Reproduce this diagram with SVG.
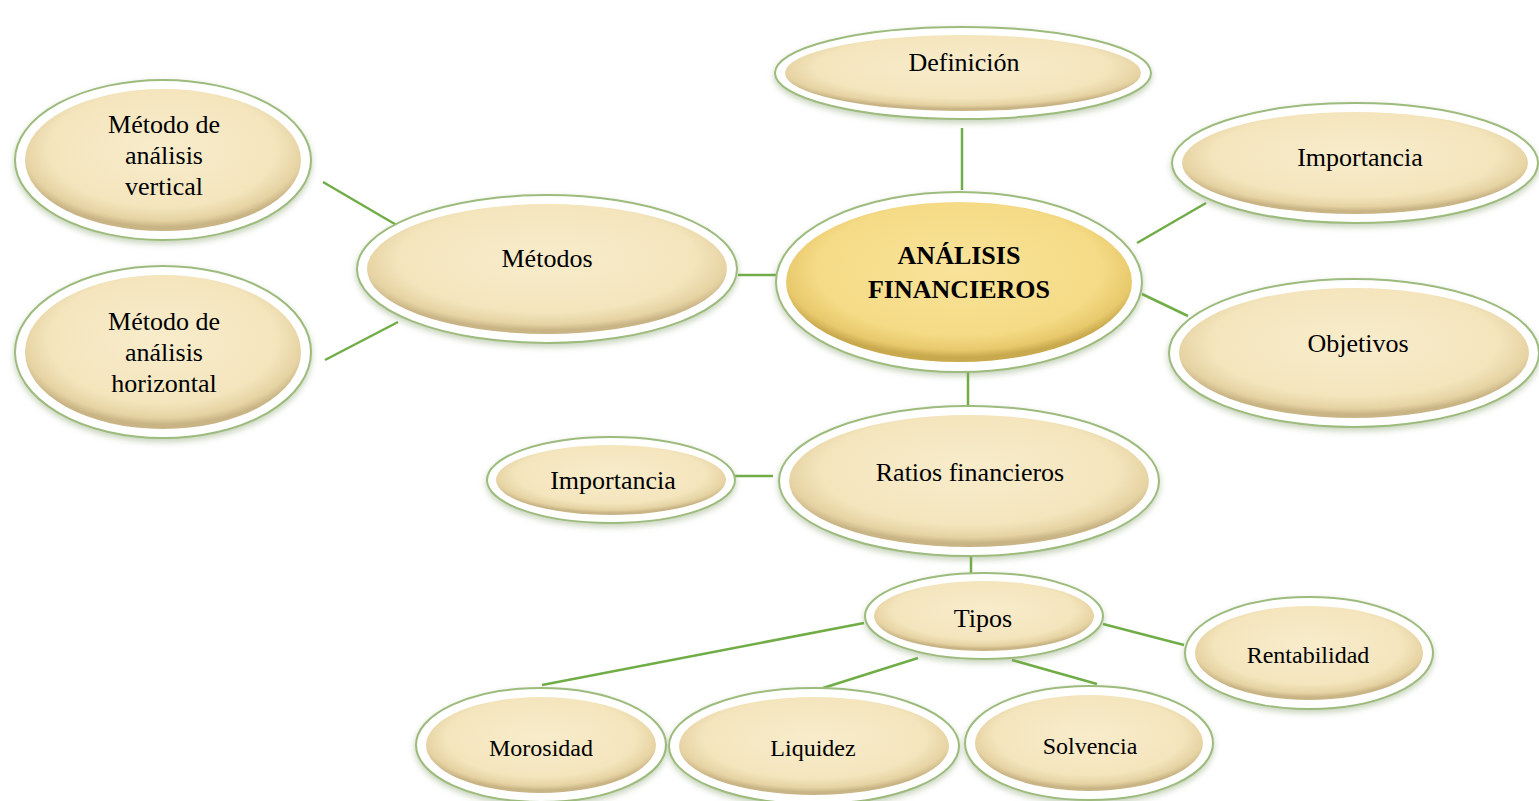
<svg xmlns="http://www.w3.org/2000/svg" width="1539" height="801" viewBox="0 0 1539 801">
  <defs>
    <radialGradient id="cream" cx="50%" cy="42%" r="55%">
      <stop offset="0" stop-color="#f8eccb"/>
      <stop offset="0.75" stop-color="#f4e5bd"/>
      <stop offset="0.92" stop-color="#e6d3a3"/>
      <stop offset="1" stop-color="#c9b486"/>
    </radialGradient>
    <radialGradient id="gold" cx="50%" cy="42%" r="55%">
      <stop offset="0" stop-color="#f9e39a"/>
      <stop offset="0.75" stop-color="#f5db86"/>
      <stop offset="0.92" stop-color="#e8c96c"/>
      <stop offset="1" stop-color="#c9a94e"/>
    </radialGradient>
    <filter id="soft" x="-10%" y="-10%" width="120%" height="125%">
      <feGaussianBlur in="SourceAlpha" stdDeviation="3"/>
      <feOffset dx="0" dy="3" result="b"/>
      <feFlood flood-color="#7f9a63" flood-opacity="0.45"/>
      <feComposite in2="b" operator="in"/>
      <feMerge><feMergeNode/><feMergeNode in="SourceGraphic"/></feMerge>
    </filter>
  </defs>
  <style>
    .outer { fill: #ffffff; stroke: #9dbb7d; stroke-width: 2; filter: url(#soft); }
    .inner { fill: url(#cream); }
    .core { fill: url(#gold); }
    .lbl { font-family: "Liberation Serif", "Times New Roman", "DejaVu Serif", serif; font-size: 26px; fill: #000; text-anchor: middle; }
    .sm { font-size: 24px; }
    .bold { font-weight: bold; font-size: 26px; }
    #connectors line { stroke: #70ad47; stroke-width: 2.5; }
  </style>

  <g id="connectors">
    <line x1="962" y1="128" x2="962" y2="190"/>
    <line x1="1137" y1="243" x2="1206" y2="203"/>
    <line x1="1142" y1="294" x2="1188" y2="316"/>
    <line x1="738" y1="275" x2="780" y2="275"/>
    <line x1="323" y1="182" x2="405" y2="230"/>
    <line x1="325" y1="360" x2="398" y2="322"/>
    <line x1="968" y1="368" x2="968" y2="414"/>
    <line x1="733" y1="476" x2="773" y2="476"/>
    <line x1="971" y1="552" x2="971" y2="573"/>
    <line x1="864" y1="623" x2="542" y2="685"/>
    <line x1="918" y1="658" x2="823" y2="688"/>
    <line x1="1012" y1="660" x2="1097" y2="684"/>
    <line x1="1103" y1="624" x2="1184" y2="645"/>
  </g>

  <g id="definicion">
    <ellipse class="outer" cx="963" cy="73" rx="188" ry="46"/>
    <ellipse class="inner" cx="963" cy="73" rx="178" ry="38"/>
    <text class="lbl" x="964" y="71">Definición</text>
  </g>

  <g id="importancia-top">
    <ellipse class="outer" cx="1355" cy="163" rx="183" ry="60"/>
    <ellipse class="inner" cx="1355" cy="163" rx="173" ry="51"/>
    <text class="lbl" x="1360" y="166">Importancia</text>
  </g>

  <g id="objetivos">
    <ellipse class="outer" cx="1354" cy="353" rx="185" ry="74"/>
    <ellipse class="inner" cx="1354" cy="353" rx="175" ry="65"/>
    <text class="lbl" x="1358" y="352">Objetivos</text>
  </g>

  <g id="analisis">
    <ellipse class="outer" cx="959" cy="282" rx="183" ry="90"/>
    <ellipse class="core" cx="959" cy="282" rx="173" ry="80"/>
    <text class="lbl bold" x="959" y="264">ANÁLISIS</text>
    <text class="lbl bold" x="959" y="298">FINANCIEROS</text>
  </g>

  <g id="metodos">
    <ellipse class="outer" cx="547" cy="269" rx="190" ry="74"/>
    <ellipse class="inner" cx="547" cy="269" rx="180" ry="65"/>
    <text class="lbl" x="547" y="267">Métodos</text>
  </g>

  <g id="metodo-vertical">
    <ellipse class="outer" cx="163" cy="160" rx="148" ry="80"/>
    <ellipse class="inner" cx="163" cy="160" rx="138" ry="71"/>
    <text class="lbl" x="164" y="133">Método de</text>
    <text class="lbl" x="164" y="164">análisis</text>
    <text class="lbl" x="164" y="195">vertical</text>
  </g>

  <g id="metodo-horizontal">
    <ellipse class="outer" cx="163" cy="352" rx="148" ry="86"/>
    <ellipse class="inner" cx="163" cy="352" rx="138" ry="77"/>
    <text class="lbl" x="164" y="330">Método de</text>
    <text class="lbl" x="164" y="361">análisis</text>
    <text class="lbl" x="164" y="392">horizontal</text>
  </g>

  <g id="ratios">
    <ellipse class="outer" cx="969" cy="481" rx="190" ry="75"/>
    <ellipse class="inner" cx="969" cy="481" rx="180" ry="66"/>
    <text class="lbl" x="970" y="481">Ratios financieros</text>
  </g>

  <g id="importancia-ratios">
    <ellipse class="outer" cx="611" cy="480" rx="124" ry="43"/>
    <ellipse class="inner" cx="611" cy="480" rx="115" ry="35"/>
    <text class="lbl" x="613" y="489">Importancia</text>
  </g>

  <g id="tipos">
    <ellipse class="outer" cx="984" cy="616" rx="119" ry="43"/>
    <ellipse class="inner" cx="984" cy="616" rx="110" ry="35"/>
    <text class="lbl" x="983" y="627">Tipos</text>
  </g>

  <g id="rentabilidad">
    <ellipse class="outer" cx="1309" cy="653" rx="124" ry="56"/>
    <ellipse class="inner" cx="1309" cy="653" rx="114" ry="47"/>
    <text class="lbl sm" x="1308" y="663">Rentabilidad</text>
  </g>

  <g id="morosidad">
    <ellipse class="outer" cx="541" cy="745" rx="125" ry="57"/>
    <ellipse class="inner" cx="541" cy="745" rx="115" ry="48"/>
    <text class="lbl sm" x="541" y="756">Morosidad</text>
  </g>

  <g id="liquidez">
    <ellipse class="outer" cx="814" cy="746" rx="145" ry="58"/>
    <ellipse class="inner" cx="814" cy="746" rx="135" ry="49"/>
    <text class="lbl sm" x="813" y="756">Liquidez</text>
  </g>

  <g id="solvencia">
    <ellipse class="outer" cx="1089" cy="743" rx="124" ry="57"/>
    <ellipse class="inner" cx="1089" cy="743" rx="114" ry="48"/>
    <text class="lbl sm" x="1090" y="754">Solvencia</text>
  </g>
</svg>
